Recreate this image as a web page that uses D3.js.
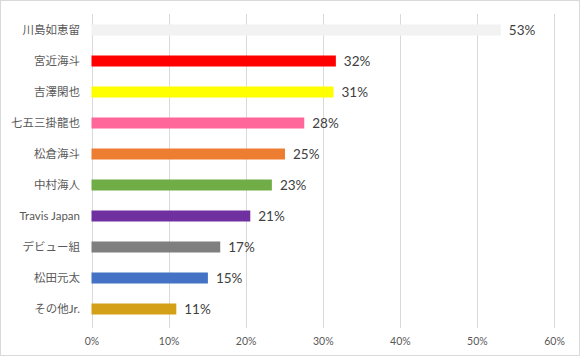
<!DOCTYPE html>
<html><head><meta charset="utf-8">
<script src="https://cdn.jsdelivr.net/npm/d3@7"></script>
<style>body{margin:0;background:#fff}svg{display:block}</style>
</head><body>
<svg id="c" width="580" height="356"></svg>
<script>
const categories = ["川島如恵留","宮近海斗","吉澤閑也","七五三掛龍也","松倉海斗","中村海人","Travis Japan","デビュー組","松田元太","その他Jr."];
const values = [53.1, 31.7, 31.4, 27.6, 25.1, 23.4, 20.6, 16.7, 15.1, 11.0];
const colors = ["#f2f2f2","#ff0000","#ffff00","#ff6699","#ed7d31","#70ad47","#7030a0","#7f7f7f","#4472c4","#d4a017"];
const ticks = [0,10,20,30,40,50,60];

const svg = d3.select("#c");
svg.append("rect").attr("x",0.5).attr("y",0.5).attr("width",579).attr("height",355)
  .attr("fill","#fff").attr("stroke","#d9d9d9");

const x = d3.scaleLinear().domain([0,60]).range([91.5,554]);
const y = d3.scaleBand().domain(categories).range([14.5,324.5]).paddingInner(0.645).paddingOuter(0.3225);

// gridlines
svg.append("g").selectAll("line").data(ticks).join("line")
  .attr("x1",d=>Math.round(x(d))+0.5).attr("x2",d=>Math.round(x(d))+0.5)
  .attr("y1",14).attr("y2",328).attr("stroke","#d9d9d9").attr("stroke-width",1);

// x axis labels
const xa = svg.append("g").attr("transform","translate(0,341)")
  .call(d3.axisBottom(x).tickValues(ticks).tickFormat(d=>d+"%").tickSize(0).tickPadding(0));
xa.select(".domain").remove();
xa.selectAll("text").attr("fill","#595959").style("fill","#595959").attr("font-size","10.5px")
  .attr("font-family","Lato, 'Noto Sans', sans-serif").attr("dy","0.35em");

// y axis labels
const ya = svg.append("g").attr("transform","translate(80,0)")
  .call(d3.axisLeft(y).tickSize(0).tickPadding(0));
ya.select(".domain").remove();
ya.selectAll("text").style("fill","#595959").attr("font-size","11.5px")
  .attr("font-family","Lato, 'Noto Sans CJK JP', sans-serif");

// bars
svg.append("g").selectAll("rect").data(categories).join("rect")
  .attr("x",x(0)).attr("y",d=>y(d)).attr("height",y.bandwidth())
  .attr("width",(d,i)=>x(values[i])-x(0)).attr("fill",(d,i)=>colors[i]);

// value labels
svg.append("g").selectAll("text").data(categories).join("text")
  .attr("x",(d,i)=>x(values[i])+8).attr("y",d=>y(d)+y.bandwidth()/2)
  .attr("dy","0.36em").attr("fill","#404040").attr("font-size","13.5px")
  .attr("font-family","Lato, 'Noto Sans', sans-serif")
  .text((d,i)=>Math.round(values[i])+"%");
</script>
</body></html>
